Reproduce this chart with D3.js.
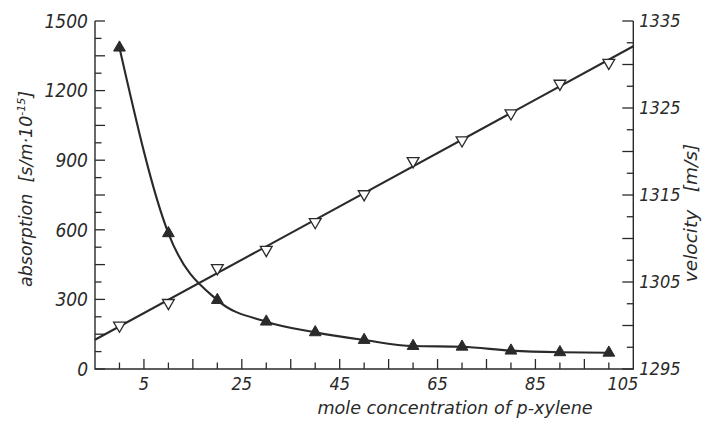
<!DOCTYPE html>
<html><head><meta charset="utf-8">
<script src="https://cdn.jsdelivr.net/npm/d3@7"></script>
<style>
html,body{margin:0;padding:0;background:#fff;}
svg text{font-family:"DejaVu Sans Condensed","DejaVu Sans",sans-serif;font-stretch:condensed;font-style:italic;fill:#2a2a2a;}
svg text.title{font-family:"DejaVu Sans",sans-serif;font-stretch:normal;white-space:pre;}
</style></head>
<body><svg id="c" width="709" height="427"></svg>
<script>
// mole concentration of p-xylene
const conc = [0, 10, 20, 30, 40, 50, 60, 70, 80, 90, 100];
// absorption [s/m·10^-15] (filled triangles)
const absorption = [1385, 585, 297, 204, 158, 125, 99, 96, 79, 72, 70];
// velocity [m/s] (open triangles)
const velocity = [1300.0, 1302.6, 1306.6, 1308.7, 1311.9, 1315.1, 1318.9, 1321.3, 1324.4, 1327.8, 1330.2];
const xTickLabels = [5, 25, 45, 65, 85, 105];
const absTickLabels = [0, 300, 600, 900, 1200, 1500];
const velTickLabels = [1295, 1305, 1315, 1325, 1335];

const svg = d3.select("#c");
const L = 95, R = 633.3, T = 21, B = 369;
const x = d3.scaleLinear().domain([-5, 105]).range([L, R]);
const yA = d3.scaleLinear().domain([0, 1500]).range([B, T]);
const yV = d3.scaleLinear().domain([1295, 1335]).range([B, T]);
const ink = "#2a2a2a";

// frame axes (left, bottom, right)
const g = svg.append("g");
g.append("path").attr("d", `M${L},${T}V${B}H${R}V${T}`).attr("fill","none").attr("stroke",ink).attr("stroke-width",1.4);

// left ticks every 75, long every 150
d3.range(0, 1501, 75).forEach(v => {
  const len = v % 150 === 0 ? 10 : 6.5;
  g.append("line").attr("x1", L).attr("x2", L + len).attr("y1", yA(v)).attr("y2", yA(v)).attr("stroke", ink).attr("stroke-width", 1.3);
});
// right ticks every 2.5, long every 5
d3.range(1295, 1335.01, 2.5).forEach(v => {
  const len = Math.abs(v % 5) < 1e-6 ? 11 : 6.5;
  g.append("line").attr("x1", R).attr("x2", R - len).attr("y1", yV(v)).attr("y2", yV(v)).attr("stroke", ink).attr("stroke-width", 1.3);
});
// bottom ticks every 5 from 0 to 100, long at 5,15,...
d3.range(0, 101, 5).forEach(v => {
  const len = v % 10 === 5 ? 10 : 6.5;
  g.append("line").attr("x1", x(v)).attr("x2", x(v)).attr("y1", B).attr("y2", B - len).attr("stroke", ink).attr("stroke-width", 1.3);
});

// tick labels
absTickLabels.forEach(v => {
  svg.append("text").attr("x", L - 7).attr("y", yA(v)).attr("dy", "0.36em").attr("text-anchor", "end").attr("font-size", 19).text(v);
});
velTickLabels.forEach(v => {
  svg.append("text").attr("x", R + 6).attr("y", yV(v)).attr("dy", "0.36em").attr("text-anchor", "start").attr("font-size", 18).text(v);
});
xTickLabels.forEach((v, i) => {
  const last = i === xTickLabels.length - 1;
  svg.append("text").attr("x", x(v) + (last ? 5 : 0)).attr("y", B + 21).attr("text-anchor", last ? "end" : "middle").attr("font-size", 18).text(v);
});

// axis titles
svg.append("text").attr("class", "title").attr("x", 455).attr("y", 414).attr("text-anchor", "middle").attr("font-size", 17.6).text("mole concentration of p-xylene");
const lt = svg.append("text").attr("class", "title").attr("transform", "translate(32,189) rotate(-90)").attr("text-anchor", "middle").attr("font-size", 17.5);
lt.append("tspan").text("absorption  [s/m·10");
lt.append("tspan").attr("dy", -7).attr("font-size", 11).text("-15");
lt.append("tspan").attr("dy", 7).text("]");
svg.append("text").attr("class", "title").attr("transform", "translate(697,213) rotate(-90)").attr("text-anchor", "middle").attr("font-size", 18.5).text("velocity   [m/s]");

// velocity: least-squares straight line through the points, drawn across the whole axis
const mx = d3.mean(conc), my = d3.mean(velocity);
const slope = d3.sum(conc, (c, i) => (c - mx) * (velocity[i] - my)) / d3.sum(conc, c => (c - mx) ** 2);
const fit = c => my + slope * (c - mx);
svg.append("path").attr("d", d3.line()([[x(-5), yV(fit(-5))], [x(105), yV(fit(105))]]))
  .attr("fill", "none").attr("stroke", ink).attr("stroke-width", 2.1);

// absorption smooth curve
svg.append("path").attr("d", d3.line().curve(d3.curveMonotoneX).x((c) => x(c)).y((c, i) => yA(absorption[i]))(conc))
  .attr("fill", "none").attr("stroke", ink).attr("stroke-width", 2.1);

// markers
const tri = d3.symbol().type(d3.symbolTriangle).size(60);
svg.selectAll(".va").data(conc).join("path").attr("d", tri)
  .attr("transform", (c, i) => `translate(${x(c)},${yV(velocity[i])}) rotate(180)`)
  .attr("fill", "#fff").attr("stroke", ink).attr("stroke-width", 1.3);
svg.selectAll(".ab").data(conc).join("path").attr("d", tri)
  .attr("transform", (c, i) => `translate(${x(c)},${yA(absorption[i])})`)
  .attr("fill", ink).attr("stroke", ink).attr("stroke-width", 1);
</script></body></html>
